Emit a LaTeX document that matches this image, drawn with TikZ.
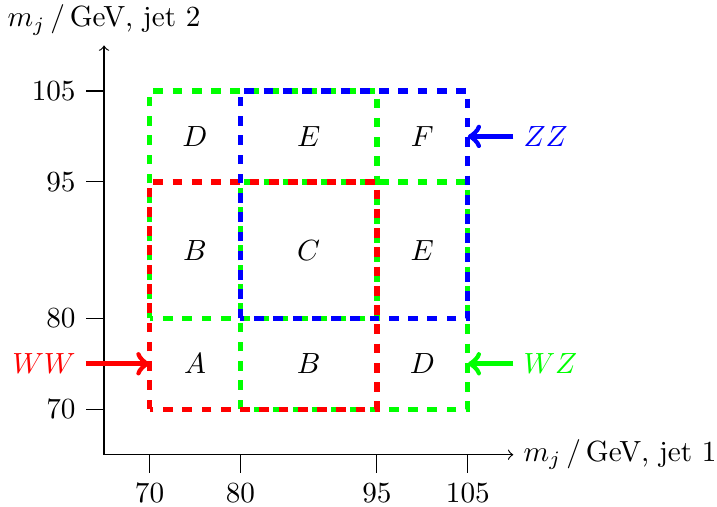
\documentclass[tikz,border=0pt]{standalone}
\usetikzlibrary{positioning}
\begin{document}
\begin{tikzpicture}[x=0.1095cm, y=0.1095cm,
    region/.style={line width=1.8pt, dash pattern=on 3.3pt off 3.3pt},
    marker/.style={line width=1.8pt, ->}]
  \useasboundingbox (53.56,59.26) rectangle (132.4,115.0);
  % axes
  \coordinate (o) at (65,65);
  \coordinate (xend) at (110,65);
  \coordinate (yend) at (65,110);
  \draw[->] (o) -- (xend) node[right] (xlab) {$m_j\,/$\,GeV, jet 1};
  \draw[->] (o) -- (yend) node[above] (ylab) {$m_j\,/$\,GeV, jet 2};
  \foreach \v in {70,80,95,105} {
    \draw (\v,65) -- (\v,63) node[below] (xt\v) {$\v$};
    \draw (65,\v) -- (63,\v) node[left] (yt\v) {$\v$};
  }
  % windows
  \draw[region, green] (70,80) rectangle (95,105);
  \draw[region, green] (80,70) rectangle (105,95);
  \draw[region, red] (70,70) rectangle (95,95);
  \draw[region, blue] (80,80) rectangle (105,105);
  % cells
  \node (a)  at (75,75)     {$A$};
  \node (b1) at (87.5,75)   {$B$};
  \node (d1) at (100,75)    {$D$};
  \node (b2) at (75,87.5)   {$B$};
  \node (c)  at (87.5,87.5) {$C$};
  \node (e1) at (100,87.5)  {$E$};
  \node (d2) at (75,100)    {$D$};
  \node (e2) at (87.5,100)  {$E$};
  \node (f)  at (100,100)   {$F$};
  % markers
  \node[red, left] (ww) at (63,75) {$WW$};
  \coordinate (wwtip) at (70,75);
  \draw[marker, red] (ww.east) -- (wwtip);
  \node[green, right] (wz) at (110,75) {$WZ$};
  \coordinate (wztip) at (105,75);
  \draw[marker, green] (wz.west) -- (wztip);
  \node[blue, right] (zz) at (110,100) {$ZZ$};
  \coordinate (zztip) at (105,100);
  \draw[marker, blue] (zz.west) -- (zztip);
\end{tikzpicture}
\end{document}
